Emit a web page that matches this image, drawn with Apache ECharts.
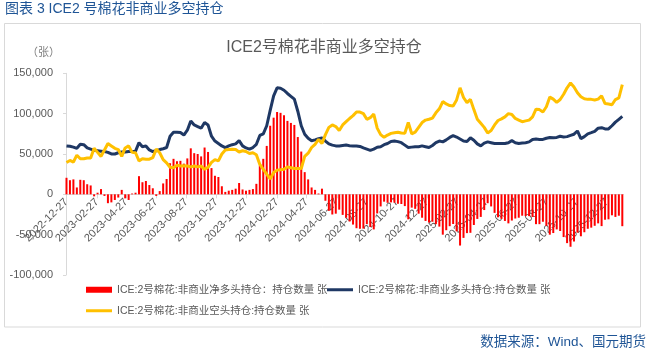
<!DOCTYPE html>
<html><head><meta charset="utf-8">
<script src="https://cdn.jsdelivr.net/npm/echarts@6/dist/echarts.min.js"></script>
<style>html,body{margin:0;padding:0;background:#fff}#c{width:648px;height:351px}</style>
</head><body><div id="c"></div>
<script>
const startDate = '2022-12-27';
const endDate = '2026-01-29';
const tickLabels = ['2022-12-27','2023-02-27','2023-04-27','2023-06-27','2023-08-27','2023-10-27','2023-12-27',
  '2024-02-27','2024-04-27','2024-06-27','2024-08-27','2024-10-27','2024-12-27',
  '2025-02-27','2025-04-27','2025-06-27','2025-08-27','2025-10-27','2025-12-27'];
const yTicks = [-100000, -50000, 0, 50000, 100000, 150000];
const seriesNames = ['ICE:2号棉花:非商业净多头持仓：持仓数量 张','ICE:2号棉花:非商业多头持仓:持仓数量 张','ICE:2号棉花:非商业空头持仓:持仓数量 张'];

const netLong = [20500,17500,18500,8500,18000,17500,12500,11000,-2500,2000,6500,-2000,-11000,-10000,-7000,-4000,5500,-5000,-7000,1000,
 2000,22500,15000,16500,11500,7500,-2000,4000,13500,19000,38500,44000,41000,41500,38000,44500,57000,51000,50000,47000,
 58000,52500,32500,23000,21500,10000,3000,4500,5500,7000,14000,6000,4500,5500,6500,13000,36000,44000,60000,85000,
 95000,102000,101000,98000,91000,88500,86000,71000,53000,27500,18500,8500,5500,1000,7000,-8000,-20500,-25000,-24000,-19000,
 -25500,-29000,-33700,-37500,-42000,-42700,-42500,-37000,-40500,-43500,-23700,-15000,-9100,-10500,-10000,-10400,-11700,-12000,-14600,-31000,
 -16500,-18000,-24000,-29000,-33000,-35000,-34000,-37000,-40000,-50000,-44500,-39500,-36800,-46000,-63500,-54000,-48100,-47700,-38000,-30500,
 -28000,-19500,-11000,-15000,-23000,-28500,-30500,-33000,-36000,-32500,-30000,-29000,-26500,-27000,-27000,-28000,-37000,-37000,-34000,-39000,
 -50000,-48000,-43500,-45500,-53000,-60500,-65000,-58500,-47500,-52000,-47000,-42700,-41300,-39000,-36000,-39400,-31500,-31000,-26000,-28000,
 -26500,-39500];
const longPos = [60000,59500,58500,57000,62000,61500,57500,56000,54500,54000,53500,53000,52000,50000,50000,51500,52500,52500,53000,53000,
 53500,64000,59000,60000,55000,53000,54000,55500,56500,58000,72000,77000,77000,76500,73500,79500,91000,86000,84000,82000,
 89000,86000,72000,66000,63000,60000,58000,60000,61500,62500,66500,60000,57500,56000,58000,62000,73000,75000,85000,104000,
 122000,132000,131500,129000,125000,121500,118000,103000,85000,74500,69500,66500,67500,69000,70000,66000,62500,61000,60000,60000,
 60500,61000,60300,60000,60000,59300,57500,56000,54500,56000,58300,59000,61500,63000,65500,66000,65300,64000,61000,58000,
 58500,59000,59000,60000,59000,58000,60500,64000,66000,65000,67500,70500,72700,71000,68500,66000,65500,70000,67000,62500,
 60000,63500,65000,64000,63000,63000,63000,63000,64000,66500,64000,63000,63500,64000,65000,68000,68500,68000,68000,69500,
 70500,70000,70500,72000,71000,71500,73000,74500,78500,69000,71500,75000,76400,78000,82000,82600,81000,81000,85000,89500,
 93000,96500];
const shortPos = [39500,42000,40000,48500,44000,44000,45000,45000,57000,52000,47000,55000,63000,60000,57000,55500,47000,57500,60000,52000,
 51500,41500,44000,43500,43500,45500,56000,51500,43000,39000,33500,33000,36000,35000,35500,35000,34000,35000,34000,35000,
 31000,33500,39500,43000,41500,50000,55000,55500,56000,55500,52500,54000,53000,50500,51500,49000,37000,31000,25000,19000,
 27000,30000,30500,31000,34000,33000,32000,32000,32000,47000,51000,58000,62000,68000,63000,74000,83000,86000,84000,79000,
 86000,90000,94000,97500,102000,102000,100000,93000,95000,99500,82000,74000,70600,73500,75500,76400,77000,76000,75600,89000,
 75000,77000,83000,89000,92000,93000,94500,101000,106000,115000,112000,110000,109500,117000,132000,120000,113600,117700,105000,93000,
 88000,83000,76000,79000,86000,91500,93500,96000,100000,99000,94000,92000,90000,91000,92000,96000,105500,105000,102000,108500,
 120500,118000,114000,117500,124000,132000,138000,133000,126000,121000,118500,117700,117700,117000,118000,122000,112500,112000,111000,117500,
 119500,136000];

const DAY = 86400000;
const t0 = Date.parse(startDate);
const dayOf = s => Math.round((Date.parse(s) - t0) / DAY);
const xDays = netLong.map((_, i) => i * 7);
const tickVals = tickLabels.map(dayOf);
const labelMap = {};
tickLabels.forEach((s, i) => { labelMap[tickVals[i]] = s; });
const FONT = "'Liberation Sans', 'Noto Sans CJK SC', sans-serif";
const fmtNum = v => (v < 0 ? '-' : '') + String(Math.abs(v)).replace(/\B(?=(\d{3})+(?!\d))/g, ',');

const GRID_TOP = 73.3, GRID_BOTTOM = 76, H = 351;
const gridH = H - GRID_TOP - GRID_BOTTOM;
const yMin = yTicks[0], yMax = yTicks[yTicks.length - 1];
const zeroOffset = -gridH * (0 - yMin) / (yMax - yMin);

const chart = echarts.init(document.getElementById('c'), null, {renderer: 'canvas'});
chart.setOption({
  animation: false,
  backgroundColor: '#ffffff',
  textStyle: {fontFamily: FONT},
  title: {
    text: 'ICE2号棉花非商业多空持仓', left: 'center', top: 35,
    textStyle: {fontSize: 16, fontWeight: 'normal', color: '#595959', fontFamily: FONT}
  },
  grid: {left: 66, right: 24.7, top: GRID_TOP, bottom: GRID_BOTTOM, containLabel: false, outerBoundsMode: 'none'},
  legend: [
    {data: [seriesNames[0]], left: 86, top: 284.5, padding: 0, itemWidth: 26, itemHeight: 6, icon: 'rect',
     textStyle: {fontSize: 10.5, color: '#595959', fontFamily: FONT}},
    {data: [seriesNames[1]], left: 327, top: 284.5, padding: 0, itemWidth: 26, itemHeight: 3, icon: 'rect',
     textStyle: {fontSize: 10.5, color: '#595959', fontFamily: FONT}},
    {data: [seriesNames[2]], left: 86, top: 305.5, padding: 0, itemWidth: 26, itemHeight: 3, icon: 'rect',
     textStyle: {fontSize: 10.5, color: '#595959', fontFamily: FONT}}
  ],
  xAxis: {
    type: 'value', min: -1, max: dayOf(endDate), offset: zeroOffset,
    axisLine: {show: true, onZero: false, lineStyle: {color: '#d9d9d9', width: 1}},
    axisTick: {show: true, customValues: tickVals, length: 4, lineStyle: {color: '#d9d9d9'}},
    axisLabel: {customValues: tickVals, rotate: 45, fontSize: 11, color: '#595959', margin: 6, fontFamily: FONT,
      showMinLabel: true, showMaxLabel: true,
      formatter: v => labelMap[Math.round(v)] || ''},
    splitLine: {show: false}
  },
  yAxis: {
    type: 'value', min: yMin, max: yMax, interval: 50000,
    axisLine: {show: true, onZero: false, lineStyle: {color: '#d9d9d9'}},
    axisTick: {show: true, length: 3, lineStyle: {color: '#d9d9d9'}},
    axisLabel: {fontSize: 11, color: '#595959', margin: 13, formatter: fmtNum, fontFamily: FONT},
    splitLine: {show: false}
  },
  graphic: [
    {type: 'rect', shape: {x: 4.5, y: 23.5, width: 636, height: 303.5}, style: {fill: 'none', stroke: '#d9d9d9', lineWidth: 1}, silent: true, z: -1},
    {type: 'text', x: 5, y: 9.5, style: {text: '图表 3 ICE2 号棉花非商业多空持仓', fill: '#1f5596', fontSize: 14, fontFamily: FONT, verticalAlign: 'middle'}},
    {type: 'text', x: 27, y: 53, style: {text: '（张）', fill: '#7f7f7f', fontSize: 11, fontFamily: FONT, verticalAlign: 'middle'}},
    {type: 'text', x: 646, y: 342.5, style: {text: '数据来源：Wind、国元期货', fill: '#1f5596', fontSize: 13.5, fontFamily: FONT, align: 'right', verticalAlign: 'middle'}}
  ],
  series: [
    {name: seriesNames[0], type: 'bar', barWidth: 2, color: '#ff0000', itemStyle: {color: '#ff0000'},
     data: xDays.map((d, i) => [d, netLong[i]])},
    {name: seriesNames[1], type: 'line', symbol: 'none', color: '#1f3864', lineStyle: {color: '#1f3864', width: 3},
     data: xDays.map((d, i) => [d, longPos[i]]), z: 3},
    {name: seriesNames[2], type: 'line', symbol: 'none', color: '#ffc000', lineStyle: {color: '#ffc000', width: 3},
     data: xDays.map((d, i) => [d, shortPos[i]]), z: 4}
  ]
});
</script>
</body></html>
